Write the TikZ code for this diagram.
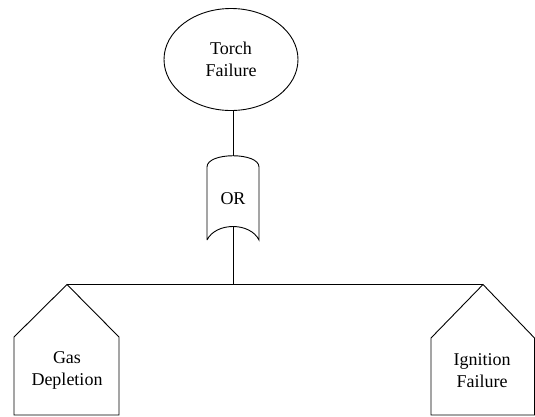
\documentclass[tikz,border=0pt]{standalone}
\usepackage{fontspec}
\setmainfont{Liberation Serif}
\usetikzlibrary{shapes.geometric}

\begin{document}
\begin{tikzpicture}[x=1pt,y=-1pt,line width=0.9pt,
  label text/.style={align=center,font=\rmfamily\fontsize{18}{22}\selectfont},
  event/.style={draw,black,ellipse,minimum width=134pt,minimum height=102pt}]
\tikzstyle{every node}+=[inner sep=0pt]
\useasboundingbox (0,0) rectangle (535,416);
\node [event,label text] (torch) at (231,59.5) {Torch\\Failure};
\node [label text] (orgate) at (233,199) {OR};
\coordinate (orin) at (233,156);
\coordinate (orout) at (233,226.5);
\draw [black] (207,240) -- (207,167) .. controls (207,152) and (259,152) .. (259,167)
  -- (259,240) .. controls (250,222) and (216,222) .. (207,240);
\node [label text] (gas) at (67,370) {Gas\\Depletion};
\coordinate (gastop) at (67,284.5);
\draw [black] (gastop) -- (119,337) -- (119,415) -- (14,415) -- (14,337) -- cycle;
\node [label text] (ignition) at (482,371) {Ignition\\Failure};
\coordinate (igntop) at (483,284.5);
\draw [black] (igntop) -- (534.5,338) -- (534.5,415) -- (431,415) -- (431,338) -- cycle;
\coordinate (bar) at (233,284.5);
\draw [black] (torch.south -| orin) -- (orin);
\draw [black] (orout) -- (bar);
\draw [black] (gastop) -- (igntop);
\end{tikzpicture}
\end{document}
